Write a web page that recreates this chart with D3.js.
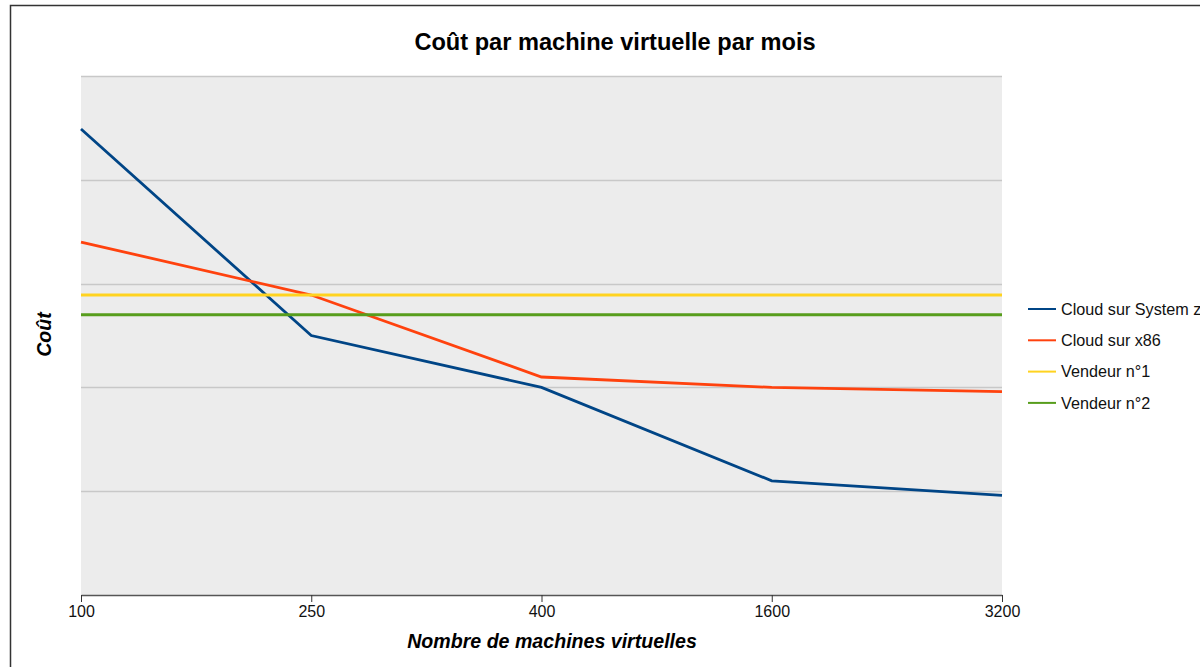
<!DOCTYPE html>
<html>
<head>
<meta charset="utf-8">
<script src="https://cdnjs.cloudflare.com/ajax/libs/d3/7.8.5/d3.min.js"></script>
<style>
  body { margin: 0; background: #fff; }
  svg { display: block; font-family: "Liberation Sans", Arial, sans-serif; }
</style>
</head>
<body>
<div id="chart"></div>
<script>
// categories along the x axis (number of VMs)
var categories = ["100", "250", "400", "1600", "3200"];

// cost values (arbitrary units, axis has no labels)
var cloudSystemZ = [4.49, 2.50, 2.00, 1.10, 0.96];
var cloudX86     = [3.40, 2.89, 2.10, 2.00, 1.96];
var vendeur1     = [2.89, 2.89, 2.89, 2.89, 2.89];
var vendeur2     = [2.70, 2.70, 2.70, 2.70, 2.70];

var seriesNames  = ["Cloud sur System z", "Cloud sur x86", "Vendeur n°1", "Vendeur n°2"];
var seriesColors = ["#004586", "#ff420e", "#ffd320", "#579d1c"];
var yTicks = [0, 1, 2, 3, 4, 5];

var series = [cloudSystemZ, cloudX86, vendeur1, vendeur2].map(function (vals, i) {
    return { name: seriesNames[i], color: seriesColors[i], values: vals };
});

var W = 1200, H = 667;
var margin = {top: 76, right: 198, bottom: 72, left: 81};
var width = W - margin.left - margin.right;
var height = H - margin.top - margin.bottom;

var svg = d3.select("#chart").append("svg").attr("width", W).attr("height", H);

// outer frame (only top and left visible in the shot)
svg.append("rect").attr("x", 10.5).attr("y", 5.5).attr("width", 1200).attr("height", 700)
    .attr("fill", "none").attr("stroke", "#333").attr("stroke-width", 1.5);

var g = svg.append("g").attr("transform", "translate(" + margin.left + "," + margin.top + ")");

var x = d3.scalePoint().domain(categories).range([0, width]).padding(0);
var y = d3.scaleLinear().domain([0, 5]).range([height, 0]);

// plot background
g.append("rect").attr("width", width).attr("height", height).attr("fill", "#ececec");

// horizontal grid
g.selectAll("line.grid").data(yTicks.slice(1)).enter().append("line")
    .attr("class", "grid")
    .attr("x1", 0).attr("x2", width)
    .attr("y1", function (d) { return Math.round(y(d)) + 0.5; })
    .attr("y2", function (d) { return Math.round(y(d)) + 0.5; })
    .attr("stroke", "#c8c8c8").attr("stroke-width", 1.5);

// x axis
var xAxis = d3.axisBottom(x).tickSize(7).tickSizeOuter(0);
var xg = g.append("g").attr("transform", "translate(0," + height + ")").call(xAxis);
xg.select(".domain").attr("stroke", "#555").attr("stroke-width", 1.5);
xg.selectAll(".tick line").attr("stroke", "#333").attr("stroke-width", 1);
xg.selectAll(".tick text").attr("font-size", 16).attr("fill", "#111")
    .attr("font-family", "Liberation Sans, Arial, sans-serif").attr("dy", "0.75em");

// lines
var line = d3.line()
    .x(function (d, i) { return x(categories[i]); })
    .y(function (d) { return y(d); });

g.selectAll("path.series").data(series).enter().append("path")
    .attr("class", "series")
    .attr("d", function (d) { return line(d.values); })
    .attr("fill", "none")
    .attr("stroke", function (d) { return d.color; })
    .attr("stroke-width", 2.8);

// title
svg.append("text").attr("x", 615).attr("y", 50)
    .attr("text-anchor", "middle").attr("font-size", 23.6).attr("font-weight", "bold")
    .text("Coût par machine virtuelle par mois");

// axis titles
svg.append("text").attr("x", 552).attr("y", 648)
    .attr("text-anchor", "middle").attr("font-size", 19.6).attr("font-weight", "bold")
    .attr("font-style", "italic").text("Nombre de machines virtuelles");

svg.append("text").attr("transform", "translate(51," + (margin.top + height / 2 - 1) + ") rotate(-90)")
    .attr("text-anchor", "middle").attr("font-size", 19.6).attr("font-weight", "bold")
    .attr("font-style", "italic").text("Coût");

// legend
var legend = svg.append("g").attr("transform", "translate(1028,309)");
var item = legend.selectAll("g").data(series).enter().append("g")
    .attr("transform", function (d, i) { return "translate(0," + (i * 31.3) + ")"; });
item.append("line").attr("x1", 0).attr("x2", 28).attr("y1", 0).attr("y2", 0)
    .attr("stroke", function (d) { return d.color; }).attr("stroke-width", 2);
item.append("text").attr("x", 33).attr("dy", "0.35em").attr("font-size", 16.2)
    .attr("fill", "#111").text(function (d) { return d.name; });
</script>
</body>
</html>
